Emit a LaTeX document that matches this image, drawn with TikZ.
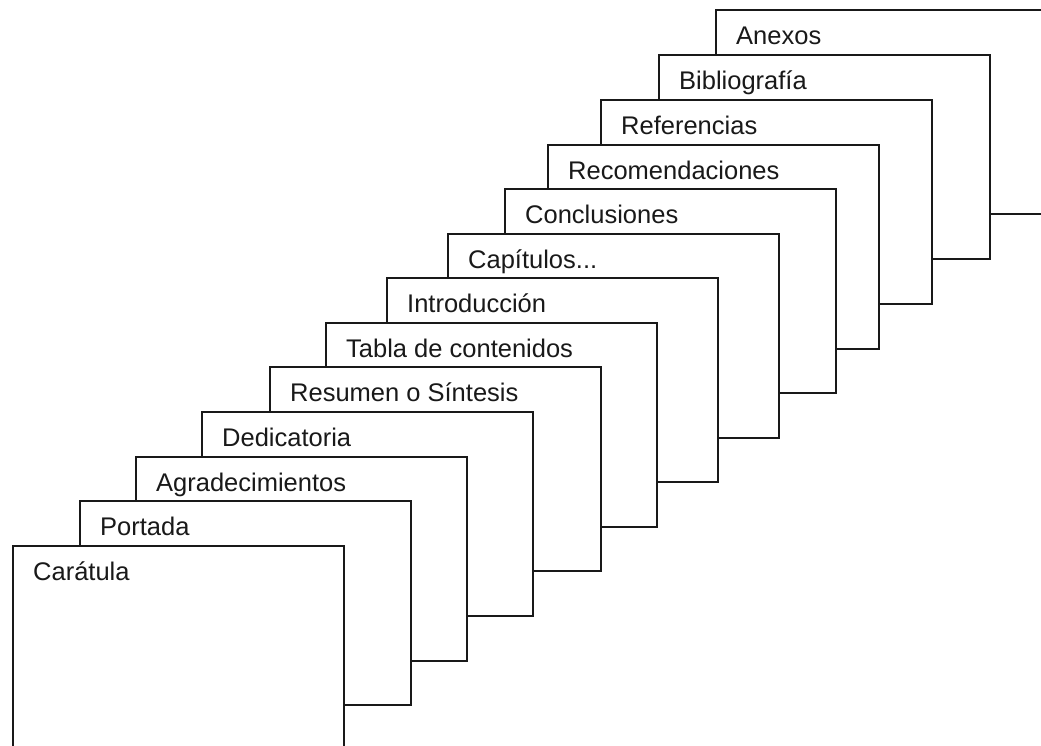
\documentclass[tikz,border=0pt]{standalone}
\usepackage{fontspec}
\setmainfont{Liberation Sans}
\usetikzlibrary{positioning}

\begin{document}
\begin{tikzpicture}[
        x=1pt, y=-1pt,
        pg/.style={rectangle, draw=black!90, fill=white, line width=1.8pt,
                   minimum width=331pt, minimum height=204pt,
                   anchor=north west, inner sep=0pt},
        ttl/.style={anchor=base west, inner sep=0pt, text=black!90,
                    font=\fontsize{25.5}{30}\selectfont}
    ]
        \useasboundingbox (0,0) rectangle (1041,745);
        \clip (0,0) rectangle (1041,745);

        % hojas del fondo
        \node[pg] (anexos) at (715,9) {};
        \node[ttl] (tanexos) at ([shift={(21,35)}]anexos.north west) {Anexos};
        \node[pg] (biblio) at (658,54) {};
        \node[ttl] (tbiblio) at ([shift={(21,35)}]biblio.north west) {Bibliografía};
        \node[pg] (refs) at (600,99) {};
        \node[ttl] (trefs) at ([shift={(21,35)}]refs.north west) {Referencias};
        \node[pg] (recom) at (547,144) {};
        \node[ttl] (trecom) at ([shift={(21,35)}]recom.north west) {Recomendaciones};
        \node[pg] (concl) at (504,188) {};
        \node[ttl] (tconcl) at ([shift={(21,35)}]concl.north west) {Conclusiones};
        \node[pg] (caps) at (447,233) {};
        \node[ttl] (tcaps) at ([shift={(21,35)}]caps.north west) {Capítulos...};

        % hojas del medio
        \node[pg] (intro) at (386,277) {};
        \node[ttl] (tintro) at ([shift={(21,35)}]intro.north west) {Introducción};
        \node[pg] (tabla) at (325,322) {};
        \node[ttl] (ttabla) at ([shift={(21,35)}]tabla.north west) {Tabla de contenidos};
        \node[pg] (resumen) at (269,366) {};
        \node[ttl] (tresumen) at ([shift={(21,35)}]resumen.north west) {Resumen o Síntesis};
        \node[pg] (dedic) at (201,411) {};
        \node[ttl] (tdedic) at ([shift={(21,35)}]dedic.north west) {Dedicatoria};

        % hojas del frente
        \node[pg] (agrad) at (135,456) {};
        \node[ttl] (tagrad) at ([shift={(21,35)}]agrad.north west) {Agradecimientos};
        \node[pg] (portada) at (79,500) {};
        \node[ttl] (tportada) at ([shift={(21,35)}]portada.north west) {Portada};
        \node[pg] (caratula) at (12,545) {};
        \node[ttl] (tcaratula) at ([shift={(21,35)}]caratula.north west) {Carátula};

    \end{tikzpicture}
\end{document}
